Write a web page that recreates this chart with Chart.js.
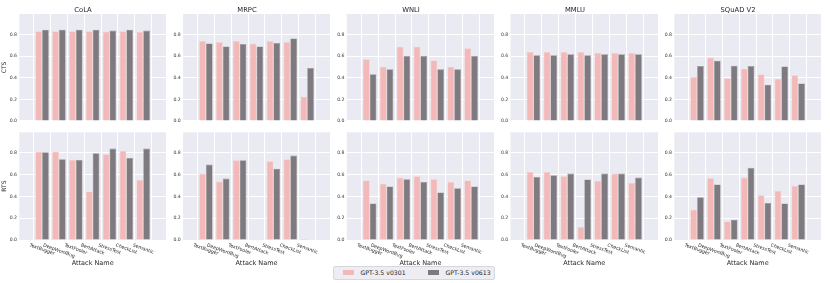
<!DOCTYPE html>
<html><head><meta charset="utf-8">
<script src="https://cdn.jsdelivr.net/npm/chart.js@4.4.0/dist/chart.umd.min.js"></script>
<style>
html,body{margin:0;padding:0;background:#fff;}
#wrap{position:relative;width:830px;height:283px;overflow:hidden;font-family:'DejaVu Sans',sans-serif;}
#wrap canvas{position:absolute;}
#legend{position:absolute;left:333px;top:266px;width:162px;height:13.5px;box-sizing:border-box;border:1px solid #d6d6de;border-radius:2px;background:#EDEDF3;color:#262626;font-size:6.2px;}
#legend .p{position:absolute;top:3.3px;width:11.5px;height:4.4px;}
#legend .t{position:absolute;top:1.8px;line-height:8px;white-space:nowrap;}
</style></head><body>
<div id="wrap">
  <div id="legend">
    <span class="p" style="left:8.5px;background:#F3B9B9"></span><span class="t" id="lt0" style="left:26.5px"></span>
    <span class="p" style="left:93.5px;background:#7E7A7F"></span><span class="t" id="lt1" style="left:111.5px"></span>
  </div>
</div>
<script>
const attacks = ['TextBugger','DeepWordBug','TextFooler','BertAttack','StressTest','CheckList','Semantic'];
const taskNames = ['CoLA','MRPC','WNLI','MMLU','SQuAD V2'];
const seriesNames = ['GPT-3.5 v0301','GPT-3.5 v0613'];
const rowNames = ['CTS','RTS'];
const yTicks = [0, 0.2, 0.4, 0.6, 0.8];
const xTitle = 'Attack Name';

// CTS (top row)
const ctsCoLA_0301  = [0.830,0.830,0.830,0.830,0.827,0.830,0.824];
const ctsCoLA_0613  = [0.845,0.845,0.845,0.845,0.837,0.845,0.837];
const ctsMRPC_0301  = [0.739,0.730,0.742,0.715,0.739,0.730,0.225];
const ctsMRPC_0613  = [0.718,0.690,0.712,0.690,0.721,0.763,0.490];
const ctsWNLI_0301  = [0.572,0.502,0.687,0.687,0.560,0.502,0.672];
const ctsWNLI_0613  = [0.432,0.478,0.602,0.602,0.478,0.478,0.602];
const ctsMMLU_0301  = [0.639,0.639,0.639,0.639,0.630,0.630,0.630];
const ctsMMLU_0613  = [0.608,0.608,0.617,0.608,0.617,0.617,0.617];
const ctsSQuAD_0301 = [0.408,0.587,0.395,0.484,0.432,0.389,0.423];
const ctsSQuAD_0613 = [0.508,0.557,0.511,0.508,0.335,0.505,0.347];

// RTS (bottom row)
const rtsCoLA_0301  = [0.812,0.812,0.736,0.446,0.788,0.818,0.553];
const rtsCoLA_0613  = [0.806,0.742,0.736,0.797,0.840,0.754,0.840];
const rtsMRPC_0301  = [0.611,0.537,0.733,0,0.724,0.742,0.012];
const rtsMRPC_0613  = [0.693,0.565,0.733,0,0.656,0.776,0];
const rtsWNLI_0301  = [0.547,0.519,0.574,0.586,0.559,0.534,0.547];
const rtsWNLI_0613  = [0.336,0.492,0.559,0.534,0.437,0.476,0.492];
const rtsMMLU_0301  = [0.626,0.626,0.586,0.119,0.543,0.611,0.525];
const rtsMMLU_0613  = [0.580,0.595,0.611,0.556,0.611,0.611,0.574];
const rtsSQuAD_0301 = [0.278,0.568,0.171,0.574,0.412,0.452,0.498];
const rtsSQuAD_0613 = [0.394,0.510,0.186,0.663,0.339,0.336,0.510];

const rows = [
  [[ctsCoLA_0301,ctsCoLA_0613],[ctsMRPC_0301,ctsMRPC_0613],[ctsWNLI_0301,ctsWNLI_0613],[ctsMMLU_0301,ctsMMLU_0613],[ctsSQuAD_0301,ctsSQuAD_0613]],
  [[rtsCoLA_0301,rtsCoLA_0613],[rtsMRPC_0301,rtsMRPC_0613],[rtsWNLI_0301,rtsWNLI_0613],[rtsMMLU_0301,rtsMMLU_0613],[rtsSQuAD_0301,rtsSQuAD_0613]]
];

document.getElementById('lt0').textContent = seriesNames[0];
document.getElementById('lt1').textContent = seriesNames[1];

const FONT = 'DejaVu Sans';
const TXT = '#262626';
const COLORS = ['#F3B9B9', '#7E7A7F'];
const EDGES = ['#F7CFCF', '#9A979B'];

const bgPlugin = {
  id: 'bgfill',
  beforeDraw(chart) {
    const {ctx, chartArea: a} = chart;
    ctx.save();
    ctx.fillStyle = '#EAEAF2';
    ctx.fillRect(a.left, a.top, a.right - a.left, a.bottom - a.top);
    ctx.restore();
  }
};

const xLabelPlugin = {
  id: 'xlabels',
  afterDraw(chart) {
    const ctx = chart.ctx, xs = chart.scales.x, a = chart.chartArea;
    const fs = 4.7;
    ctx.save();
    ctx.font = fs + 'px "' + FONT + '"';
    ctx.fillStyle = TXT;
    ctx.textAlign = 'center';
    ctx.textBaseline = 'middle';
    const ang = 20 * Math.PI / 180, h = fs * 1.15;
    attacks.forEach((lab, i) => {
      const w = ctx.measureText(lab).width;
      const H = w * Math.sin(ang) + h * Math.cos(ang);
      const x = xs.getPixelForValue(i);
      const y = a.bottom + 2.5 + H / 2;
      ctx.save();
      ctx.translate(x, y);
      ctx.rotate(ang);
      ctx.fillText(lab, 0, 0);
      ctx.restore();
    });
    ctx.restore();
  }
};

const wrap = document.getElementById('wrap');
const colLefts = [0, 164, 328, 492, 655];
const Wy = 19.3;

for (let r = 0; r < 2; r++) {
  for (let c = 0; c < 5; c++) {
    const cv = document.createElement('canvas');
    const left = colLefts[c];
    const wy = (19.3 + 163.75 * c) - left;
    const top = r === 0 ? 0 : 126;
    const height = r === 0 ? 126 : 157;
    const width = Math.round(wy + 147);
    cv.width = width; cv.height = height;
    cv.style.left = left + 'px'; cv.style.top = top + 'px';
    cv.style.width = width + 'px'; cv.style.height = height + 'px';
    wrap.appendChild(cv);
    const pair = rows[r][c];
    new Chart(cv, {
      type: 'bar',
      data: {
        datasets: pair.map((vals, k) => ({
          label: seriesNames[k],
          data: vals.map((v, i) => ({x: i, y: v})),
          backgroundColor: COLORS[k],
          borderColor: EDGES[k],
          borderWidth: 0.6,
          categoryPercentage: 0.8,
          barPercentage: 1.0
        }))
      },
      options: {
        responsive: false,
        animation: false,
        devicePixelRatio: 1,
        layout: {padding: {top: r === 0 ? 0 : 6.3, bottom: r === 0 ? 0 : 13, left: 0, right: 0}},
        plugins: {
          legend: {display: false},
          tooltip: {enabled: false},
          title: r === 0 ? {
            display: true, text: taskNames[c], color: TXT,
            font: {family: FONT, size: 6.8, weight: 'normal', lineHeight: 1.2},
            padding: {top: 5.84, bottom: 0}
          } : {display: false}
        },
        scales: {
          x: {
            type: 'linear', min: -0.73, max: 6.73,
            afterBuildTicks: s => { s.ticks = attacks.map((_, i) => ({value: i})); },
            ticks: {display: false},
            grid: {color: '#ffffff', lineWidth: 1, drawTicks: false},
            border: {display: false},
            title: r === 1 ? {
              display: true, text: xTitle, color: TXT,
              font: {family: FONT, size: 6.5, lineHeight: 1.2},
              padding: {top: 0, bottom: 2.9}
            } : {display: false},
            afterFit: s => { s.height = r === 0 ? 3.3 : 30; }
          },
          y: {
            min: 0, max: 0.99,
            afterBuildTicks: s => { s.ticks = yTicks.map(v => ({value: v})); },
            ticks: {
              color: '#3a3a3a', padding: 2.3,
              font: {family: FONT, size: 4.6},
              callback: v => Number(v).toFixed(1)
            },
            grid: {color: '#ffffff', lineWidth: 1, drawTicks: false},
            border: {display: false},
            title: c === 0 ? {
              display: true, text: rowNames[r], color: TXT,
              font: {family: FONT, size: 6, lineHeight: 1.2},
              padding: {top: 1, bottom: 0}
            } : {display: false},
            afterFit: s => { s.width = wy; }
          }
        }
      },
      plugins: r === 1 ? [bgPlugin, xLabelPlugin] : [bgPlugin]
    });
  }
}
</script>
</body></html>
